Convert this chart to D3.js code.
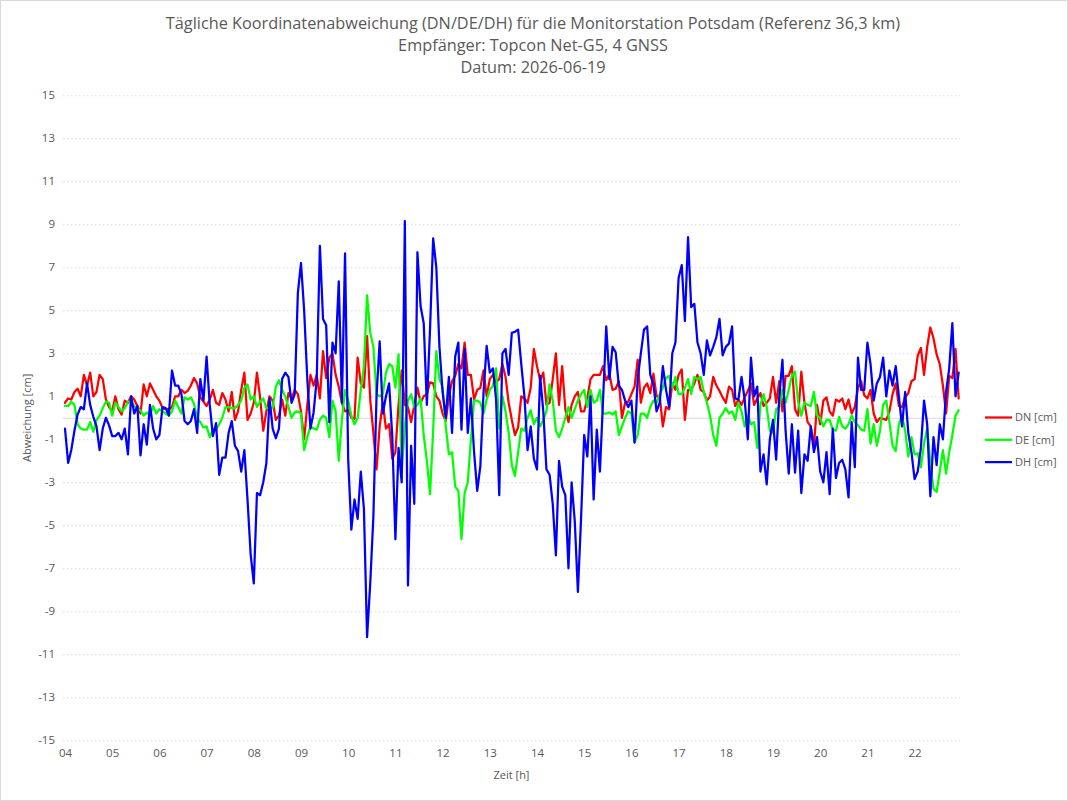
<!DOCTYPE html>
<html>
<head>
<meta charset="utf-8">
<script src="https://cdn.jsdelivr.net/npm/d3@7"></script>
<style>
  html, body { margin: 0; padding: 0; background: #fff; }
  svg { display: block; }
  text { font-family: "Open Sans", "Liberation Sans", sans-serif; fill: #595959; }
</style>
</head>
<body>
<svg id="chart" width="1068" height="801"></svg>
<script>
// ---------- DATA ----------
const titleLines = [
  "Tägliche Koordinatenabweichung (DN/DE/DH) für die Monitorstation Potsdam (Referenz 36,3 km)",
  "Empfänger: Topcon Net-G5, 4 GNSS",
  "Datum: 2026-06-19"
];
const startHour = 4;          // first sample 04:00
const stepMinutes = 4;        // sampling interval
const xTickHours = [4,5,6,7,8,9,10,11,12,13,14,15,16,17,18,19,20,21,22];
const xTickLabels = ["04","05","06","07","08","09","10","11","12","13","14","15","16","17","18","19","20","21","22"];
const yTicks = [-15,-13,-11,-9,-7,-5,-3,-1,1,3,5,7,9,11,13,15];
const seriesNames = ["DN [cm]", "DE [cm]", "DH [cm]"];
const seriesColors = ["#ff0000", "#00ff00", "#0000ff"];

const DN = [
  0.7,0.9,0.85,1.2,1.35,1.0,2.0,1.5,2.1,1.0,1.2,2.0,1.8,0.85,0.5,0.3,1.0,0.4,0.15,0.8,0.7,1.0,0.85,0.55,0.2,1.55,1.0,1.6,1.3,
  1.0,0.8,0.45,0.4,0.4,0.5,1.0,1.0,1.3,1.15,1.25,1.5,1.85,1.6,0.95,0.75,0.55,0.85,1.3,0.7,0.6,1.15,0.85,0.3,1.2,-0.1,0.3,1.3,2.1,
  -0.1,0.2,0.7,2.1,0.95,-0.6,0.3,1.0,0.8,-0.1,0.1,0.85,0.1,1.15,0.9,1.3,1.1,0.3,-1.0,0.6,2.0,1.5,2.0,0.9,3.1,1.85,2.8,3.0,
  2.0,1.45,0.7,0.3,0.35,0.0,-0.05,2.8,1.6,1.4,3.8,0.85,-0.7,-2.4,-0.4,0.7,-0.5,-0.3,-1.9,-1.6,0.6,2.2,0.6,0.5,-0.2,0.6,1.4,0.7,1.0,
  1.1,1.65,1.6,1.0,0.8,0.2,-0.15,1.0,1.7,1.95,2.5,2.3,3.5,2.0,2.0,0.85,1.3,1.4,2.2,1.0,1.8,2.0,1.65,1.8,2.5,1.9,0.7,-0.1,
  -0.8,-0.45,1.0,0.9,0.7,1.4,3.2,2.4,1.75,2.1,0.6,0.7,1.8,3.0,0.6,2.4,0.4,-0.2,0.6,1.0,1.2,0.3,0.3,0.9,1.8,2.0,2.0,2.0,2.4,
  1.75,2.05,1.3,1.35,1.7,0.0,0.7,0.75,1.1,1.45,2.7,0.7,1.4,1.6,1.15,2.05,1.0,1.0,-0.4,0.5,0.4,1.6,1.3,2.0,2.25,-0.1,1.3,1.3,
  1.6,2.0,1.3,1.2,0.8,1.0,1.9,1.5,1.25,0.95,0.7,1.45,1.3,0.55,0.85,0.6,0.95,1.25,1.6,0.6,0.9,1.15,0.55,0.7,0.9,1.9,0.7,1.7,0.3,
  1.95,1.95,2.4,0.4,0.1,2.15,0.7,-0.2,-0.4,-1.3,0.6,-0.3,0.8,0.95,0.3,0.1,0.85,0.75,0.9,0.4,0.85,0.2,0.5,1.4,1.7,1.05,0.9,1.3,0.2,
  -0.2,0.0,-0.05,-0.1,0.3,1.1,1.6,0.55,0.5,0.95,1.15,1.7,1.8,2.9,3.25,2.0,3.3,4.2,3.7,2.95,2.5,1.5,0.2,1.95,1.85,3.2,0.9
];
const DE = [
  0.55,0.55,0.75,0.6,-0.3,-0.5,-0.55,-0.55,-0.2,-0.65,-0.1,0.1,0.45,0.75,0.7,0.1,0.7,0.5,0.3,0.45,0.75,0.75,0.55,0.4,0.35,0.1,0.25,0.1,0.55,
  0.2,0.4,0.3,0.2,0.1,0.3,0.8,0.5,0.2,0.95,0.85,0.95,0.65,0.0,-0.2,-0.45,-0.4,-0.9,-0.55,-0.55,-0.3,0.0,0.5,0.5,0.45,0.45,0.6,0.8,1.4,
  1.55,0.85,1.0,0.5,0.75,0.9,0.45,0.45,0.45,1.45,1.75,1.3,1.0,0.5,0.0,0.25,0.3,0.2,-1.5,-0.9,-0.4,-0.5,-0.55,-0.1,0.1,0.0,-0.9,0.8,
  0.3,-2.0,-0.1,1.3,0.8,0.1,-0.3,0.0,1.3,2.4,5.7,3.95,3.3,1.1,1.0,1.1,2.1,2.5,2.4,1.4,2.95,-2.5,-0.4,0.8,1.1,0.5,0.6,0.9,-0.8,
  -2.0,-3.55,-0.6,3.1,1.8,1.4,-0.4,-1.7,-1.6,-3.2,-3.4,-5.65,-3.5,-3.0,-1.0,0.8,0.8,0.7,0.2,0.85,1.3,1.5,2.3,-0.5,1.0,0.3,-0.7,-2.2,
  -2.7,-1.6,-0.5,-0.6,0.0,0.35,-0.3,0.0,-0.4,-0.1,0.3,1.55,0.8,-0.6,-0.9,-0.5,0.0,0.5,0.0,0.4,0.8,1.1,1.3,0.5,1.3,0.7,0.8,1.3,0.2,
  0.2,0.25,0.15,0.3,-0.8,-0.4,0.0,0.3,0.2,-1.15,-0.8,0.2,0.2,0.0,0.5,0.8,0.7,1.1,1.4,1.85,1.95,1.4,1.9,1.1,1.1,1.4,1.8,1.1,
  1.9,1.8,1.9,1.2,0.7,0.1,-0.8,-1.3,0.0,0.2,0.45,0.2,0.3,-0.1,0.7,0.3,-0.4,0.1,-0.3,-0.2,-1.4,0.6,1.1,0.5,-0.6,-0.7,0.4,0.5,1.3,
  0.7,1.3,1.95,2.15,0.75,0.1,0.7,0.6,0.55,1.2,0.1,0.0,-0.4,-0.1,-0.1,-0.55,-0.6,0.05,-0.4,-0.5,-0.3,0.1,-0.2,-0.35,-0.55,-0.6,0.4,-1.2,-0.3,
  -1.3,-0.6,0.6,0.8,-0.2,-1.3,-1.55,-0.3,0.1,-0.6,-1.8,-0.9,-1.7,-1.65,-2.3,-1.2,-0.5,-2.1,-3.3,-3.45,-2.5,-1.5,-2.6,-1.6,-0.8,0.1,0.35
];
const DH = [
  -0.5,-2.1,-1.5,-0.6,0.15,0.5,0.4,1.6,0.6,0.05,-0.4,-1.5,-0.5,0.0,-0.35,-0.85,-0.85,-0.7,-1.0,-0.5,-1.7,1.0,0.2,0.55,-1.75,-0.3,-1.25,0.6,-0.5,
  -1.0,-0.8,0.5,0.45,0.1,2.2,1.5,1.5,1.1,-0.15,-0.3,-0.15,0.4,-0.7,1.8,0.8,2.85,0.6,-0.85,-0.25,-2.65,-1.85,-1.85,-0.7,-0.15,-1.3,-1.55,-2.5,-1.5,
  -3.8,-6.35,-7.7,-3.5,-3.6,-3.0,-2.1,0.9,-0.5,-0.95,-0.5,1.8,2.1,1.9,0.7,1.1,5.8,7.2,5.0,1.8,-0.5,0.25,1.8,8.0,4.6,4.3,-0.2,3.5,
  3.0,6.35,0.7,7.65,-1.95,-5.2,-3.8,-4.7,-2.5,-4.25,-10.2,-7.7,-4.6,1.0,3.55,0.2,1.0,1.6,-0.85,-5.65,-1.4,-3.0,9.15,-7.8,-1.3,-4.0,7.7,5.2,4.4,
  0.6,4.1,8.35,7.0,3.3,1.2,0.0,1.9,-0.7,2.85,3.5,-0.55,3.2,-0.7,0.9,-1.6,-3.4,-2.25,1.15,3.35,2.1,2.3,0.85,-3.6,3.0,3.2,2.0,3.95,
  4.0,4.1,2.5,1.0,-1.5,-0.4,-1.9,-2.4,1.95,0.3,-2.4,-2.65,-4.0,-6.4,-2.0,-3.2,-3.6,-7.0,-3.0,-4.8,-8.1,-4.7,-0.8,-1.8,1.0,-3.8,-0.55,-2.5,0.85,
  4.25,1.8,3.3,3.05,1.5,1.3,0.8,0.5,0.8,-1.15,1.8,3.0,4.1,4.25,2.0,1.55,0.3,0.7,2.4,1.3,0.5,3.0,3.5,6.5,7.1,4.5,8.4,5.15,
  5.3,3.5,3.0,2.0,3.6,2.9,3.3,3.75,4.6,2.9,3.3,3.45,4.25,0.9,0.85,1.9,0.85,-1.0,2.8,1.0,1.45,-2.5,-1.7,-3.1,-1.0,-0.1,-1.95,1.0,2.7,
  -0.6,-2.6,-0.3,-2.55,-0.6,-3.5,-1.7,-2.0,-0.4,-1.6,-0.9,-2.5,-3.0,-1.6,-3.55,-0.5,-2.8,-2.1,-1.95,-2.4,-3.7,-0.2,-2.3,2.8,1.3,1.3,3.5,2.5,0.8,
  1.6,1.9,2.8,1.0,2.2,1.5,2.4,1.0,-0.4,1.2,-0.7,-1.6,-2.85,-2.5,-1.4,0.8,-0.3,-3.65,-0.9,-2.2,-0.3,-1.0,1.2,2.3,4.4,1.0,2.1
];

// ---------- CHART ----------
const svg = d3.select("#chart");
const W = 1068, H = 801;

// outer chart border
svg.append("rect").attr("x", 0.5).attr("y", 0.5).attr("width", W - 1).attr("height", H - 1)
  .attr("fill", "#fff").attr("stroke", "#d9d9d9").attr("stroke-width", 1);

const nPts = DN.length;
const hourOf = i => startHour + i * stepMinutes / 60;

const plotLeft = 63, plotRight = 960;
const x = d3.scaleLinear().domain([4, 22]).range([65, 914.6]);
const y = d3.scaleLinear().domain([-15, 15]).range([740.3, 95.3]);

// title
const title = svg.append("g").attr("text-anchor", "middle");
titleLines.forEach((t, k) => {
  title.append("text").attr("x", 533).attr("y", 29 + k * 22)
    .attr("font-size", 16.3).text(t);
});

// gridlines (dotted, odd values)
const grid = svg.append("g").attr("transform", `translate(${plotLeft},0)`)
  .call(d3.axisLeft(y).tickValues(yTicks).tickSize(-(plotRight - plotLeft)).tickFormat(""));
grid.select(".domain").remove();
grid.selectAll(".tick line").attr("stroke", "#d9d9d9").attr("stroke-width", 1)
  .attr("stroke-dasharray", "1.5,2.5");

// zero line (horizontal axis line)
const xAxisLine = svg.append("g").attr("transform", `translate(0,${y(0)})`)
  .call(d3.axisBottom(x).tickValues([]).tickSizeOuter(0));
xAxisLine.select(".domain").attr("d", `M${plotLeft},0.5H${plotRight}`).attr("stroke", "#d9d9d9").attr("stroke-width", 1);

// y tick labels
const yAxis = svg.append("g").attr("transform", `translate(${plotLeft - 8},0)`)
  .call(d3.axisLeft(y).tickValues(yTicks).tickSize(0).tickPadding(0).tickFormat(d3.format("d")));
yAxis.select(".domain").remove();
yAxis.selectAll("text").attr("font-size", 11.5).attr("fill", "#595959")
  .style("font-family", '"Open Sans", sans-serif').text(d => d < 0 ? "-" + Math.abs(d) : d);

// x tick labels
const xAxis = svg.append("g").attr("transform", `translate(0,746)`)
  .call(d3.axisBottom(x).tickValues(xTickHours).tickSize(0).tickPadding(0)
    .tickFormat((d, i) => xTickLabels[i]));
xAxis.select(".domain").remove();
xAxis.selectAll("text").attr("font-size", 11.5).attr("fill", "#595959").attr("dy", "0.95em")
  .style("font-family", '"Open Sans", sans-serif');

// axis titles
svg.append("text").attr("x", (plotLeft + plotRight) / 2).attr("y", 779)
  .attr("text-anchor", "middle").attr("font-size", 11).text("Zeit [h]");
svg.append("text").attr("transform", `translate(31,${y(0)}) rotate(-90)`)
  .attr("text-anchor", "middle").attr("font-size", 11).text("Abweichung [cm]");

// series lines
const line = d3.line().x((d, i) => x(hourOf(i))).y(d => y(d));
[DN, DE, DH].forEach((s, k) => {
  svg.append("path").datum(s).attr("d", line)
    .attr("fill", "none").attr("stroke", seriesColors[k]).attr("stroke-width", 2.25)
    .attr("stroke-linejoin", "round").attr("stroke-linecap", "round");
});

// legend
const legend = svg.append("g");
seriesNames.forEach((nm, k) => {
  const ly = 417.5 + k * 22.3;
  legend.append("line").attr("x1", 985).attr("x2", 1012).attr("y1", ly).attr("y2", ly)
    .attr("stroke", seriesColors[k]).attr("stroke-width", 2.25);
  legend.append("text").attr("x", 1015).attr("y", ly).attr("dy", "0.35em")
    .attr("font-size", 11).text(nm);
});
</script>
</body>
</html>
